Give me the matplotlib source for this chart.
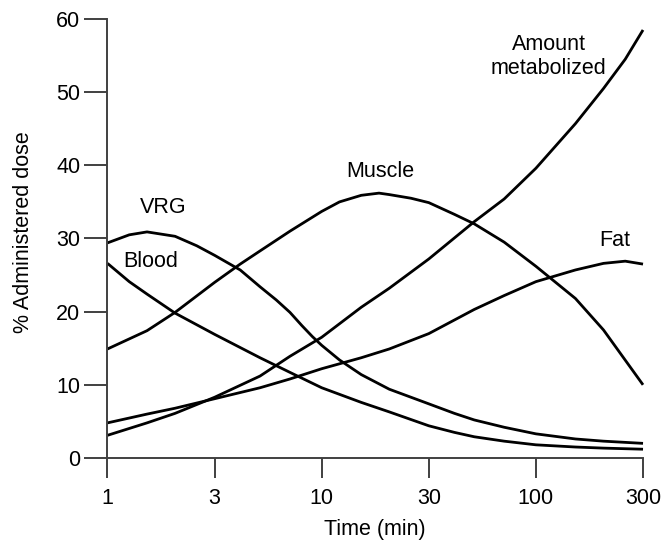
"""
Drug distribution after an IV dose: % of administered dose in each
compartment over time (log-like time axis with evenly spaced ticks).
"""

import numpy as np
import matplotlib
matplotlib.use("Agg")
import matplotlib.pyplot as plt
from matplotlib import rcParams

rcParams['font.family'] = ['Liberation Sans', 'DejaVu Sans']

# 時間軸刻度 (圖上等距排列)
TICKS = [1, 3, 10, 30, 100, 300]
TICK_LABELS = ['1', '3', '10', '30', '100', '300']

# 讀取自原圖的數據 (min, % dose)
t_blood = [1, 1.25, 1.5, 2, 3, 5, 7, 10, 15, 20, 30, 40, 50, 70, 100,
           150, 200, 300]
blood = [26.6, 24.1, 22.4, 19.8, 16.9, 13.7, 11.7, 9.6, 7.6, 6.3, 4.4,
         3.5, 2.9, 2.3, 1.8, 1.5, 1.35, 1.2]

t_vrg = [1, 1.25, 1.5, 2, 2.5, 3, 4, 5, 6, 7, 8, 9, 10, 12, 15, 20, 30,
         40, 50, 70, 100, 150, 200, 300]
vrg = [29.4, 30.5, 30.9, 30.3, 29.0, 27.7, 25.7, 23.4, 21.6, 19.9, 18.1,
       16.6, 15.4, 13.4, 11.4, 9.4, 7.4, 6.1, 5.2, 4.2, 3.3, 2.6, 2.3, 2.0]

t_met = [1, 1.5, 2, 3, 5, 7, 10, 15, 20, 30, 50, 70, 100, 150, 200, 250, 300]
metabolized = [3.1, 4.8, 6.1, 8.3, 11.2, 13.9, 16.5, 20.6, 23.2, 27.2,
               32.3, 35.4, 39.6, 45.7, 50.5, 54.5, 58.5]

t_muscle = [1, 1.5, 2, 3, 4, 5, 7, 10, 12, 15, 18, 20, 25, 30, 40, 50,
            70, 100, 150, 200, 300]
muscle = [14.9, 17.4, 19.9, 24.0, 26.5, 28.3, 31.0, 33.7, 35.0, 35.9,
          36.2, 36.0, 35.5, 34.9, 33.3, 32.0, 29.5, 26.2, 21.8, 17.5, 10.0]

t_fat = [1, 1.5, 2, 3, 5, 7, 10, 15, 20, 30, 50, 70, 100, 150, 200, 250, 300]
fat = [4.8, 6.0, 6.8, 8.1, 9.6, 10.8, 12.2, 13.7, 14.9, 17.0,
       20.3, 22.2, 24.1, 25.7, 26.6, 26.9, 26.5]

LOG_TICKS = np.log10(TICKS)
IDX = np.arange(len(TICKS), dtype=float)


def fwd(x):
    x = np.clip(np.asarray(x, dtype=float), 1e-6, None)
    return np.interp(np.log10(x), LOG_TICKS, IDX)


def inv(i):
    return 10 ** np.interp(np.asarray(i, dtype=float), IDX, LOG_TICKS)


fig = plt.figure(figsize=(6.71, 5.44), dpi=100)
ax = fig.add_axes([0.1602, 0.1581, 0.9583 - 0.1602, 0.9651 - 0.1581])
ax.set_xscale('function', functions=(fwd, inv))

curves = [(t_blood, blood), (t_vrg, vrg), (t_met, metabolized),
          (t_muscle, muscle), (t_fat, fat)]
for xs, ys in curves:
    ax.plot(xs, ys, color='black', linewidth=2.0, solid_capstyle='butt',
            solid_joinstyle='round', clip_on=False)

ax.set_xlim(1, 300)
ax.set_ylim(0, 60)
ax.set_xticks(TICKS)
ax.set_xticklabels(TICK_LABELS)
ax.minorticks_off()
ax.set_yticks([0, 10, 20, 30, 40, 50, 60])

for side in ['top', 'right']:
    ax.spines[side].set_visible(False)
for side in ['left', 'bottom']:
    ax.spines[side].set_color('#404040')
    ax.spines[side].set_linewidth(1.4)

ax.tick_params(axis='y', direction='out', length=16.5, width=1.4,
               color='#404040', pad=3, labelsize=15.5)
ax.tick_params(axis='x', direction='out', length=14.5, width=1.4,
               color='#404040', pad=7, labelsize=15.5)

ax.set_xlabel('Time (min)', fontsize=15.5, labelpad=7)
ax.set_ylabel('% Administered dose', fontsize=15.5, labelpad=16, y=0.515)

# 曲線標籤
ax.text(1.77, 34.2, 'VRG', fontsize=15.5, ha='center', va='center')
ax.text(1.55, 26.8, 'Blood', fontsize=15.5, ha='center', va='center')
ax.text(18.2, 39.2, 'Muscle', fontsize=15.5, ha='center', va='center')
ax.text(114, 54.9, 'Amount\nmetabolized', fontsize=15.5, ha='center',
        va='center', linespacing=1.2)
ax.text(224, 29.7, 'Fat', fontsize=15.5, ha='center', va='center')

plt.savefig('out.png', dpi=100, facecolor='white')
plt.close()
